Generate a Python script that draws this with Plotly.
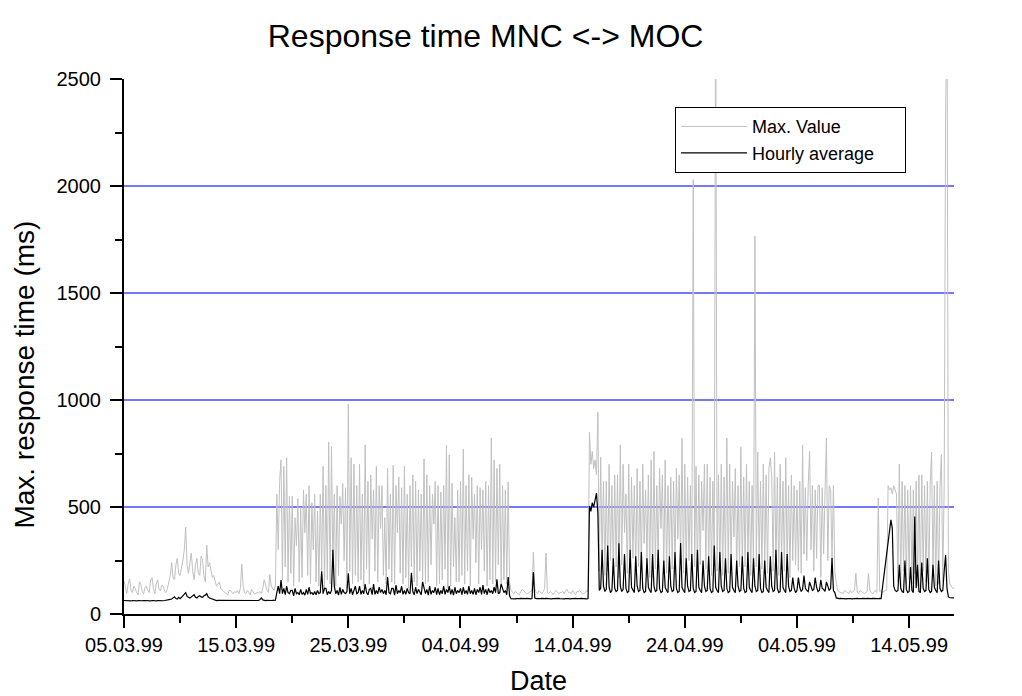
import plotly.graph_objects as go
import pandas as pd

# ---------------- data (3-hourly samples) ----------------
start_date = "1999-03-05 00:00"
sample_step = "3h"

# Max. value (ms): one row per day, 8 samples per day
max_values = [
    [155, 120, 95, 140, 165, 110, 100, 130], [120, 100, 90, 150, 140, 105, 95, 125],
    [130, 110, 100, 160, 170, 120, 95, 140], [160, 115, 110, 135, 130, 105, 100, 120],
    [150, 180, 240, 170, 160, 230, 260, 190], [180, 210, 250, 300, 406, 230, 190, 240],
    [285, 200, 160, 230, 260, 190, 180, 270], [250, 180, 150, 322, 220, 240, 200, 170],
    [180, 150, 130, 140, 150, 120, 110, 105], [100, 95, 90, 110, 110, 100, 95, 105],
    [100, 110, 95, 120, 233, 130, 100, 95], [110, 100, 90, 115, 105, 95, 95, 100],
    [100, 105, 95, 120, 160, 130, 110, 100], [185, 130, 120, 110, 130, 560, 300, 620],
    [720, 160, 690, 220, 730, 150, 550, 190], [550, 130, 450, 320, 540, 150, 500, 170],
    [580, 380, 560, 180, 600, 140, 520, 300], [560, 150, 480, 130, 560, 200, 690, 120],
    [600, 160, 803, 140, 782, 220, 560, 130], [600, 180, 550, 420, 610, 250, 590, 120],
    [981, 200, 730, 140, 700, 180, 600, 150], [700, 160, 560, 130, 790, 210, 620, 140],
    [650, 350, 580, 200, 690, 150, 600, 400], [600, 180, 450, 140, 680, 210, 560, 150],
    [695, 140, 600, 380, 640, 190, 590, 140], [690, 170, 560, 120, 600, 220, 650, 150],
    [620, 130, 580, 200, 560, 160, 725, 140], [650, 150, 600, 230, 560, 420, 620, 130],
    [600, 140, 570, 160, 600, 210, 790, 120], [743, 130, 610, 220, 450, 150, 580, 150],
    [620, 180, 770, 140, 600, 200, 650, 130], [640, 350, 560, 240, 600, 140, 590, 300],
    [580, 200, 620, 130, 600, 160, 822, 140], [720, 150, 680, 230, 700, 130, 600, 160],
    [580, 140, 617, 150, 110, 100, 95, 105],
    [100, 95, 90, 105, 115, 110, 100, 95], [95, 100, 105, 110, 290, 120, 100, 95],
    [110, 100, 95, 105, 120, 285, 100, 95], [105, 100, 90, 100, 110, 105, 95, 100],
    [100, 105, 95, 110, 115, 100, 100, 95], [110, 100, 90, 105, 105, 110, 100, 95],
    [95, 100, 110, 105, 850, 700, 760, 680],
    [720, 650, 943, 200, 733, 250, 620, 180], [620, 200, 700, 250, 600, 180, 650, 220],
    [650, 170, 790, 230, 700, 380, 560, 190], [700, 190, 640, 260, 600, 180, 680, 220],
    [620, 200, 700, 330, 580, 250, 650, 170], [720, 170, 760, 210, 600, 230, 680, 400],
    [650, 200, 720, 190, 600, 260, 640, 210], [620, 220, 680, 350, 650, 240, 822, 190],
    [700, 180, 640, 250, 600, 200, 2030, 220], [690, 200, 650, 230, 620, 390, 700, 210],
    [700, 210, 640, 180, 620, 230, 3000, 200], [650, 200, 700, 180, 640, 220, 822, 190],
    [700, 230, 620, 360, 680, 190, 600, 220], [780, 190, 640, 220, 700, 250, 620, 180],
    [600, 200, 1766, 220, 757, 230, 620, 210], [700, 230, 650, 190, 680, 730, 640, 200],
    [757, 210, 640, 180, 700, 240, 620, 200], [730, 220, 600, 170, 650, 250, 600, 230],
    [580, 200, 620, 190, 790, 280, 590, 250], [600, 760, 300, 600, 200, 580, 260, 600],
    [600, 170, 590, 280, 560, 822, 250, 600], [580, 250, 600, 200, 150, 110, 105, 100],
    [100, 95, 110, 105, 100, 95, 110, 100], [105, 110, 190, 100, 95, 110, 105, 100],
    [95, 100, 105, 190, 110, 100, 95, 105], [110, 100, 542, 105, 110, 100, 105, 110],
    [110, 600, 580, 590, 560, 600, 580, 560],
    [150, 700, 130, 620, 200, 600, 140, 580], [160, 600, 140, 580, 190, 620, 130, 650],
    [130, 650, 200, 600, 150, 620, 140, 600], [757, 180, 600, 130, 620, 140, 590, 745],
    [150, 600, 2290, 3000, 200, 140, 130, 120],
    [120],
]

# Hourly average (ms): same sampling (None = no data, joined by a straight line)
avg_values = [
    [63, 62, 64, 63, 62, 61, 63, 62], [62, 61, 63, 62, 61, 62, 63, 62],
    [62, 63, 62, 61, 63, 62, 62, 61], [63, 62, 64, 63, 62, 63, 64, 63],
    [65, 68, 70, 75, 80, 72, 70, 78], [72, 78, 85, 90, 100, 82, 78, 75],
    [80, 85, 90, 78, 75, 82, 85, 80], [78, 85, 88, 95, 80, 75, 72, 70],
    [66, 64, 63, 64, 64, 63, 63, 62], [62, 63, 62, 63, 62, 63, 62, 63],
    [63, 62, 64, 63, 65, 63, 62, 63], [62, 63, 62, 63, 62, 63, 62, 63],
    [63, 68, 75, 66, 64, 63, 64, 63], [64, 63, 64, 63, 65, 100, 130, 95],
    [159, 95, 120, 90, 130, 100, 95, 110], [110, 85, 120, 95, 100, 90, 115, 92],
    [100, 88, 115, 92, 125, 95, 100, 90], [105, 90, 110, 95, 100, 200, 95, 120],
    [120, 90, 105, 95, 110, 300, 130, 95], [110, 88, 125, 92, 115, 100, 95, 105],
    [190, 95, 120, 90, 110, 130, 95, 100], [130, 92, 110, 95, 140, 100, 90, 115],
    [120, 90, 140, 92, 110, 95, 125, 100], [115, 95, 110, 90, 173, 100, 95, 120],
    [120, 88, 135, 95, 110, 100, 130, 92], [110, 92, 120, 100, 95, 192, 105, 90],
    [125, 95, 115, 100, 90, 150, 120, 95], [115, 88, 130, 92, 110, 100, 125, 90],
    [120, 90, 110, 95, 130, 92, 115, 100], [130, 92, 115, 88, 125, 95, 110, 100],
    [120, 90, 125, 95, 110, 92, 130, 95], [110, 92, 120, 90, 115, 100, 125, 92],
    [135, 95, 115, 90, 120, 100, 110, 95], [125, 100, 162, 95, 100, 140, 120, 100],
    [110, 90, 173, 85, 72, 71, 72, 71],
    [72, 71, 72, 73, 72, 71, 72, 73], [71, 72, 71, 72, 196, 74, 72, 71],
    [71, 72, 73, 71, 72, 73, 72, 71], [72, 71, 72, 73, 71, 72, 73, 72],
    [71, 72, 71, 72, 73, 72, 71, 72], [72, 71, 73, 72, 71, 72, 73, 72],
    [71, 72, 71, 72, 505, 480, 520, 500],
    [540, 565, 470, 110, 120, 300, 130, 105], [115, 320, 125, 100, 110, 260, 120, 105],
    [110, 330, 130, 105, 115, 280, 120, 100], [105, 300, 125, 110, 100, 270, 130, 105],
    [110, 290, 120, 100, 105, 260, 125, 110], [100, 280, 130, 105, 110, 300, 120, 100],
    [105, 250, 125, 110, 100, 270, 130, 105], [110, 290, 120, 100, 105, 332, 125, 110],
    [100, 260, 130, 105, 110, 280, 120, 100], [105, 300, 125, 110, 100, 250, 130, 105],
    [110, 270, 120, 100, 105, 320, 125, 110], [100, 290, 130, 105, 110, 260, 120, 100],
    [105, 280, 125, 110, 100, 250, 130, 105], [110, 270, 120, 100, 105, 290, 125, 110],
    [100, 260, 130, 105, 110, 280, 120, 100], [105, 250, 125, 110, 100, 270, 130, 105],
    [110, 300, 120, 100, 105, 290, 125, 110], [100, 280, 130, 105, 110, 170, 120, 100],
    [110, 170, 125, 105, 115, 180, 120, 110], [105, 150, 130, 110, 115, 170, 125, 105],
    [110, 160, 120, 115, 105, 150, 130, 110], [120, 262, 110, 100, 75, 73, 72, 73],
    [72, 73, 72, 71, 72, 73, 72, 71], [72, 73, 72, 73, 72, 71, 72, 73],
    [71, 72, 73, 72, 71, 72, 73, 72], [73, 72, 72, 73, 72, None, None, None],
    [None, None, None, 440, 400, 130, 110, 105],
    [110, 230, 120, 105, 100, 250, 115, 100], [105, 220, 110, 100, 455, 120, 230, 105],
    [100, 240, 120, 105, 110, 260, 115, 100], [105, 230, 125, 110, 100, 250, 120, 105],
    [110, 200, 275, 120, 80, 76, 75, 75],
    [75],
]

tick_dates = ["1999-03-05", "1999-03-15", "1999-03-25", "1999-04-04",
              "1999-04-14", "1999-04-24", "1999-05-04", "1999-05-14"]
tick_labels = ["05.03.99", "15.03.99", "25.03.99", "04.04.99",
               "14.04.99", "24.04.99", "04.05.99", "14.05.99"]
minor_dates = ["1999-03-10", "1999-03-20", "1999-03-30", "1999-04-09",
               "1999-04-19", "1999-04-29", "1999-05-09"]
y_ticks = [0, 500, 1000, 1500, 2000, 2500]
y_minor = [250, 750, 1250, 1750, 2250]
x_range = ["1999-03-05 00:00", "1999-05-18 00:00"]
y_range = [0, 2500]
series_names = ["Max. Value", "Hourly average"]

# ---------------- build ----------------
max_flat = [v for row in max_values for v in row]
avg_flat = [v for row in avg_values for v in row]
times = pd.date_range(start=start_date, periods=len(max_flat), freq=sample_step)

FONT = "Arial, Liberation Sans, sans-serif"
GRID = "#7676ff"
PAD = "\u00a0" * 5  # right padding inside the legend box

fig = go.Figure()
fig.add_trace(go.Scatter(x=times, y=max_flat, mode="lines", name=series_names[0] + PAD,
                         line=dict(color="rgb(192,192,192)", width=1)))
fig.add_trace(go.Scatter(x=times, y=avg_flat, mode="lines", name=series_names[1] + PAD,
                         connectgaps=True, line=dict(color="black", width=1.2)))

axis_common = dict(showline=True, linewidth=2, linecolor="black", zeroline=False,
                   tickwidth=2, tickcolor="black",
                   tickfont=dict(family=FONT, size=20, color="black"))

fig.update_layout(
    width=1022, height=696,
    margin=dict(l=123.5, r=67.5, t=79, b=82, pad=0),
    paper_bgcolor="white", plot_bgcolor="white",
    font=dict(family=FONT, color="black"),
    title=dict(text="Response time MNC &lt;-&gt; MOC", font=dict(family=FONT, size=32, color="black"),
               xref="paper", x=(485.5 - 123.5) / 831, xanchor="center",
               yref="container", y=1 - 36 / 696, yanchor="middle"),
    xaxis=dict(type="date", range=x_range, tickmode="array", tickvals=tick_dates,
               ticktext=tick_labels, ticks="outside", ticklen=12, showgrid=False,
               minor=dict(tickmode="array", tickvals=minor_dates, ticks="outside",
                          ticklen=7, tickwidth=2, tickcolor="black", showgrid=False),
               **axis_common),
    xaxis2=dict(type="date", range=x_range, overlaying="x", side="top", anchor="y",
                tickmode="array", tickvals=tick_dates, showticklabels=False,
                ticks="inside", ticklen=12, showgrid=False,
                minor=dict(tickmode="array", tickvals=minor_dates, ticks="inside",
                           ticklen=7, tickwidth=2, tickcolor="black", showgrid=False),
                **axis_common),
    yaxis=dict(range=y_range, tickmode="array", tickvals=y_ticks, ticks="outside",
               ticklen=12, showgrid=True, gridcolor=GRID, gridwidth=1.5,
               ticklabelstandoff=5,
               minor=dict(tickmode="array", tickvals=y_minor, ticks="outside", ticklen=7,
                          tickwidth=2, tickcolor="black", showgrid=False),
               **axis_common),
    yaxis2=dict(range=y_range, overlaying="y", side="right", anchor="x",
                tickmode="array", tickvals=y_ticks, ticks="outside", ticklen=12,
                showgrid=False, ticklabelstandoff=6,
                minor=dict(tickmode="array", tickvals=y_minor, ticks="outside", ticklen=7,
                           tickwidth=2, tickcolor="black", showgrid=False),
                **axis_common),
    legend=dict(x=(675 - 123.5) / 831, y=(614 - 107) / 535, xanchor="left", yanchor="top",
                bordercolor="black", borderwidth=1.2, bgcolor="white",
                font=dict(family=FONT, size=18, color="black"),
                itemwidth=66, tracegroupgap=2),
    showlegend=True,
    annotations=[
        dict(text="Max. response time (ms)", textangle=-90, showarrow=False,
             xref="paper", yref="paper", x=(23 - 123.5) / 831, y=(614 - 375) / 535,
             xanchor="center", yanchor="middle",
             font=dict(family=FONT, size=28, color="black")),
        dict(text="Date", showarrow=False, xref="paper", yref="paper",
             x=(538 - 123.5) / 831, y=(614 - 698) / 535, xanchor="center", yanchor="bottom",
             font=dict(family=FONT, size=27, color="black")),
    ],
)

fig.write_html("out.html", include_plotlyjs=True, config={"displayModeBar": False},
               post_script="document.body.style.margin='0';")
